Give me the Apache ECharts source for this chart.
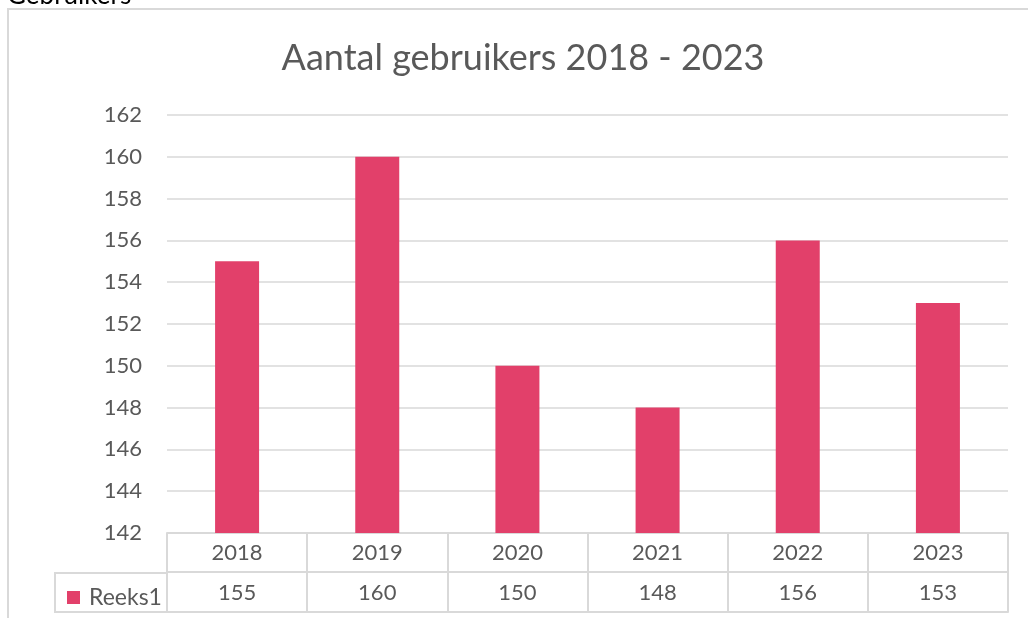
<!DOCTYPE html>
<html>
<head>
<meta charset="utf-8">
<script src="https://cdn.jsdelivr.net/npm/echarts@6/dist/echarts.min.js"></script>
<style>
  html, body { margin: 0; padding: 0; background: #ffffff; }
  #chart { width: 1028px; height: 618px; }
</style>
</head>
<body>
<div id="chart"></div>
<script>
// Gebruikers per jaar
const years = ['2018', '2019', '2020', '2021', '2022', '2023'];
const users = [155, 160, 150, 148, 156, 153];
const seriesName = 'Reeks1';
const yTicks = { min: 142, max: 162, step: 2 };

const FONT = 'Lato, "Open Sans", sans-serif';
const TEXT = '#595959';
const LINE = '#d9d9d9';
const BAR = '#E2406A';

const chart = echarts.init(document.getElementById('chart'), null, { renderer: 'canvas' });

const labelStyle = { fontFamily: FONT, fontSize: 22, color: TEXT };

chart.setOption({
  animation: false,
  backgroundColor: '#ffffff',
  title: {
    text: 'Aantal gebruikers 2018 - 2023',
    left: 518,
    textAlign: 'center',
    top: 35,
    textStyle: { fontFamily: FONT, fontSize: 36, fontWeight: 'normal', color: TEXT }
  },
  legend: {
    data: [seriesName],
    left: 62,
    top: 581,
    icon: 'rect',
    itemWidth: 13,
    itemHeight: 13,
    textStyle: Object.assign({ padding: [0, 0, 0, 4] }, labelStyle, { fontSize: 23 })
  },
  grid: { left: 167, right: 20, top: 115, bottom: 85, containLabel: false },
  xAxis: [
    {
      // first table row: years, with column dividers drawn as long ticks
      type: 'category',
      data: years,
      position: 'bottom',
      axisLine: { show: true, lineStyle: { color: LINE, width: 2 } },
      axisTick: { show: true, length: 79, lineStyle: { color: LINE, width: 2 } },
      axisLabel: Object.assign({ margin: 9 }, labelStyle)
    },
    {
      // second table row: values
      type: 'category',
      data: users.map(String),
      position: 'bottom',
      offset: 39,
      axisLine: { show: true, lineStyle: { color: LINE, width: 2 } },
      axisTick: { show: false },
      axisLabel: Object.assign({ margin: 10 }, labelStyle)
    },
    {
      // bottom edge of the table
      type: 'category',
      data: years,
      position: 'bottom',
      offset: 79,
      axisLine: { show: true, lineStyle: { color: LINE, width: 2 } },
      axisTick: { show: false },
      axisLabel: { show: false }
    }
  ],
  yAxis: {
    type: 'value',
    min: yTicks.min,
    max: yTicks.max,
    interval: yTicks.step,
    axisLine: { show: false },
    axisTick: { show: false },
    axisLabel: Object.assign({ margin: 25 }, labelStyle),
    splitLine: { lineStyle: { color: LINE, width: 1.5 } }
  },
  series: [
    {
      name: seriesName,
      type: 'bar',
      xAxisIndex: 0,
      data: users,
      barWidth: 44,
      itemStyle: { color: BAR }
    }
  ],
  graphic: [
    // outer chart frame
    { type: 'rect', shape: { x: 8, y: 9, width: 1100, height: 700 },
      style: { fill: null, stroke: LINE, lineWidth: 2 }, silent: true },
    // legend cell of the data table
    { type: 'line', shape: { x1: 55, y1: 573, x2: 168, y2: 573 },
      style: { stroke: LINE, lineWidth: 2 }, silent: true },
    { type: 'line', shape: { x1: 55, y1: 612, x2: 168, y2: 612 },
      style: { stroke: LINE, lineWidth: 2 }, silent: true },
    { type: 'line', shape: { x1: 55, y1: 572, x2: 55, y2: 613 },
      style: { stroke: LINE, lineWidth: 2 }, silent: true },
    // sheet caption above the chart
    { type: 'text', left: 7, top: -17,
      style: { text: 'Gebruikers', fontFamily: FONT, fontSize: 26, fill: '#000000' }, silent: true }
  ]
});
</script>
</body>
</html>
